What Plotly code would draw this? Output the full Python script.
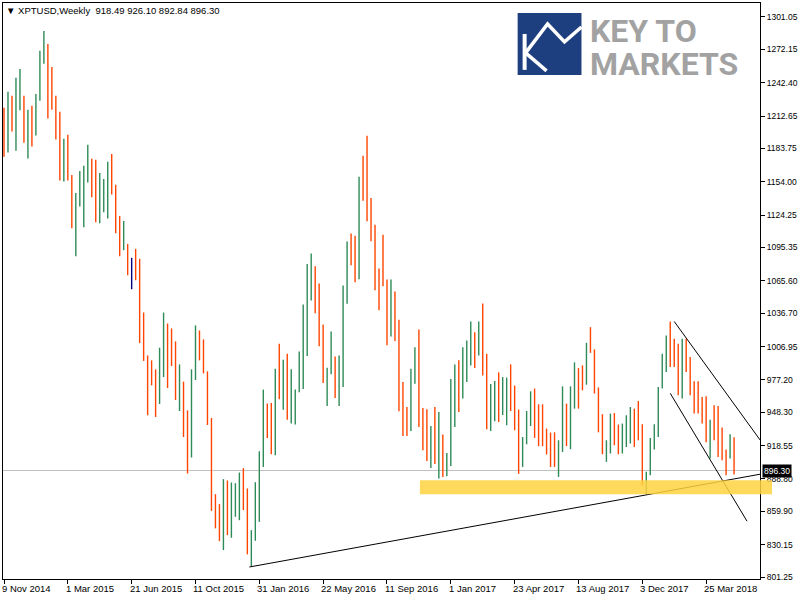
import pandas as pd
import plotly.graph_objects as go

# ---------------- data ----------------
first_week = "2014-11-09"
n_weeks = 184

opens = [1218.0, 1209.9, 1226.2, 1199.5, 1222.4, 1226.8, 1197.1, 1215.3, 1199.2, 1229.2,
         1262.5, 1268.7, 1239.3, 1222.4, 1207.5, 1164.5, 1185.0, 1159.5, 1119.9, 1138.0,
         1140.4, 1161.8, 1171.6, 1170.7, 1125.3, 1128.5, 1141.3, 1168.0, 1145.8, 1111.0,
         1093.2, 1097.9, 1082.5, 1090.5, 1085.0, 1030.8, 995.5, 987.2, 982.7, 960.4,
         990.8, 1021.9, 1016.9, 991.6, 967.0, 973.8, 947.1, 910.8, 981.2, 1015.8,
         1000.8, 984.3, 941.1, 866.3, 854.4, 836.3, 882.3, 842.5, 859.4, 882.3,
         888.6, 878.8, 829.1, 834.2, 870.5, 911.5, 950.7, 938.5, 912.9, 977.4,
         963.1, 970.3, 942.6, 956.9, 966.5, 983.6, 1007.1, 1075.4, 1073.9, 1049.6,
         1020.7, 978.3, 985.7, 992.5, 963.1, 982.7, 1056.9, 1099.4, 1090.5, 1081.6,
         1145.8, 1142.5, 1122.9, 1111.0, 1071.5, 1062.9, 1063.2, 1017.1, 1054.0, 1026.6,
         966.1, 935.8, 933.7, 979.7, 991.6, 943.5, 922.7, 907.0, 936.0, 913.8,
         927.1, 893.6, 901.6, 969.4, 986.3, 977.4, 984.8, 1004.1, 1009.5, 1002.6,
         1025.8, 998.1, 941.7, 963.1, 965.8, 950.9, 953.0, 973.8, 967.0, 946.2,
         909.9, 921.3, 943.2, 960.7, 954.5, 940.0, 929.3, 928.4, 926.2, 907.0,
         921.3, 935.2, 932.2, 964.9, 986.3, 978.3, 973.8, 1009.5, 1003.5, 967.9,
         933.1, 912.0, 917.3, 944.7, 923.3, 916.2, 923.3, 926.2, 951.2, 944.1,
         936.7, 890.6, 892.7, 917.3, 927.8, 971.4, 994.6, 1011.5, 1010.9, 990.7,
         964.9, 1005.5, 995.2, 967.2, 964.3, 950.0, 948.5, 919.8, 933.1, 932.8,
         926.2, 914.4, 908.4, 918.49]
highs = [1220.0, 1234.2, 1230.7, 1246.7, 1254.7, 1230.7, 1218.2, 1221.8, 1232.4, 1270.8,
         1288.6, 1277.0, 1256.5, 1230.7, 1216.4, 1192.4, 1195.9, 1160.0, 1144.0, 1163.6,
         1168.3, 1187.0, 1174.5, 1173.6, 1161.8, 1156.4, 1171.9, 1178.7, 1151.4, 1123.5,
         1119.0, 1098.5, 1086.1, 1094.1, 1085.2, 1037.3, 999.0, 994.6, 986.6, 1005.9,
         1037.3, 1027.5, 1023.1, 1011.5, 991.0, 975.6, 950.0, 986.6, 1025.8, 1021.3,
         1013.3, 984.8, 943.2, 875.2, 866.3, 888.6, 887.4, 885.6, 885.0, 894.5,
         898.4, 880.3, 843.1, 885.9, 913.5, 968.5, 956.0, 956.5, 987.2, 1009.5,
         995.2, 1000.6, 986.6, 968.5, 1002.6, 1044.5, 1080.7, 1089.9, 1078.6, 1063.2,
         1026.6, 988.1, 1020.4, 998.1, 999.0, 1061.4, 1100.6, 1107.7, 1105.7, 1158.5,
         1177.2, 1195.0, 1139.5, 1115.7, 1076.5, 1106.8, 1066.7, 1066.7, 1056.0, 1030.8,
         975.2, 953.0, 987.2, 1006.4, 1022.2, 952.1, 950.9, 936.0, 953.0, 948.5,
         928.4, 912.0, 977.9, 991.0, 994.6, 1006.4, 1012.4, 1029.3, 1019.8, 1029.3,
         1045.4, 1000.6, 973.5, 976.1, 983.9, 979.7, 979.2, 991.0, 972.1, 950.7,
         926.2, 949.4, 967.0, 969.4, 955.4, 955.4, 933.7, 930.2, 930.4, 923.3,
         971.4, 956.0, 971.4, 992.8, 987.7, 990.1, 1010.3, 1024.2, 1004.4, 970.5,
         946.5, 923.3, 947.1, 947.6, 937.3, 938.2, 945.6, 953.0, 951.5, 958.3,
         937.6, 895.1, 925.4, 937.6, 970.8, 1000.6, 1016.9, 1029.3, 1013.9, 1009.5,
         1013.9, 1013.9, 997.5, 975.9, 975.9, 961.9, 962.5, 941.7, 954.5, 953.9,
         934.6, 915.0, 928.6, 926.10]
lows = [1176.3, 1180.2, 1198.9, 1181.7, 1217.9, 1188.8, 1174.8, 1185.5, 1195.3, 1226.2,
        1259.4, 1210.4, 1218.2, 1191.7, 1155.2, 1154.3, 1155.2, 1112.4, 1087.5, 1132.0,
        1113.3, 1153.4, 1140.1, 1117.8, 1116.9, 1126.7, 1121.3, 1142.7, 1108.0, 1087.5,
        1092.9, 1070.6, 1058.1, 1066.1, 1010.0, 994.1, 945.6, 972.3, 944.1, 955.7,
        979.7, 969.9, 989.5, 959.2, 949.4, 926.2, 893.6, 907.9, 977.1, 994.6,
        983.0, 936.9, 860.3, 844.7, 833.3, 825.3, 838.7, 836.3, 855.0, 852.0,
        861.0, 821.5, 810.4, 833.6, 850.5, 899.5, 925.4, 910.8, 909.9, 960.0,
        950.5, 941.7, 938.2, 937.3, 966.1, 969.0, 998.4, 1048.0, 1036.7, 1007.3,
        974.4, 953.9, 982.1, 961.0, 953.9, 970.8, 1045.1, 1079.5, 1064.3, 1067.0,
        1137.1, 1118.7, 1100.9, 1057.2, 1039.4, 1060.8, 1008.2, 1016.0, 1011.8, 949.1,
        927.1, 927.1, 931.6, 973.8, 935.2, 914.4, 904.9, 898.6, 902.2, 889.2,
        890.6, 891.2, 900.4, 935.2, 948.5, 960.5, 975.2, 990.1, 987.7, 999.0,
        981.2, 933.1, 931.6, 940.2, 939.6, 945.8, 936.7, 949.4, 932.2, 893.3,
        899.5, 919.7, 936.0, 925.4, 918.0, 918.0, 910.6, 899.5, 899.5, 890.6,
        912.9, 918.2, 915.3, 951.5, 951.5, 967.9, 972.9, 1001.3, 965.0, 930.4,
        910.8, 904.0, 911.5, 918.9, 910.8, 911.5, 917.3, 920.4, 917.3, 923.3,
        882.6, 874.9, 892.1, 915.0, 926.2, 969.6, 984.2, 988.6, 988.6, 963.4,
        960.5, 984.2, 963.4, 947.1, 947.1, 938.2, 921.5, 907.0, 923.3, 908.4,
        905.5, 892.1, 907.0, 892.84]
closes = [1212.8, 1226.8, 1201.9, 1222.4, 1228.6, 1196.5, 1214.4, 1201.9, 1231.6, 1266.9,
          1268.1, 1239.3, 1222.4, 1206.3, 1163.6, 1187.6, 1160.0, 1117.2, 1138.6, 1139.2,
          1155.6, 1171.6, 1170.7, 1123.5, 1130.6, 1141.3, 1168.0, 1144.9, 1111.0, 1095.0,
          1094.1, 1084.3, 1082.5, 1082.5, 1032.6, 994.6, 988.1, 982.7, 961.2, 991.6,
          1020.1, 1018.4, 990.1, 970.3, 981.9, 947.1, 910.8, 982.5, 1015.8, 1001.3,
          984.5, 941.1, 861.0, 854.4, 836.3, 880.3, 840.2, 859.4, 883.8, 889.7,
          878.8, 830.4, 833.6, 871.0, 911.5, 955.1, 938.2, 912.9, 979.2, 961.0,
          971.4, 947.1, 956.9, 967.9, 983.6, 1008.8, 1076.5, 1078.3, 1051.6, 1022.0,
          975.6, 987.2, 990.7, 968.7, 985.4, 1058.5, 1096.8, 1090.5, 1081.6, 1147.5,
          1144.5, 1122.9, 1112.8, 1074.1, 1062.9, 1061.4, 1016.0, 1054.0, 1026.6, 966.5,
          935.8, 933.7, 979.7, 997.5, 943.5, 920.4, 907.0, 929.3, 914.4, 926.2,
          891.0, 901.6, 967.9, 985.7, 977.4, 984.8, 1004.1, 1010.9, 1002.6, 1027.3,
          998.1, 941.7, 965.4, 965.8, 949.8, 953.9, 972.1, 967.0, 946.2, 913.2,
          921.3, 938.7, 960.7, 954.5, 940.0, 928.6, 928.4, 926.2, 908.2, 921.3,
          935.2, 932.2, 964.9, 978.8, 978.3, 977.7, 1007.1, 1002.9, 967.9, 934.0,
          911.5, 916.8, 944.7, 923.9, 916.2, 923.9, 929.3, 951.2, 944.1, 940.5,
          887.7, 893.6, 917.3, 926.9, 969.9, 995.5, 1012.4, 1010.6, 990.7, 964.9,
          1005.5, 996.1, 966.3, 964.3, 950.0, 948.5, 923.3, 933.1, 926.9, 926.2,
          914.4, 913.8, 923.3, 896.30]

price_ticks = [1301.05, 1272.15, 1242.40, 1212.65, 1183.75, 1154.00, 1124.25, 1095.35,
               1065.60, 1036.70, 1006.95, 977.20, 948.30, 918.55, 888.80, 859.90,
               830.15, 801.25]
price_tick_text = ["1301.05", "1272.15", "1242.40", "1212.65", "1183.75", "1154.00",
                   "1124.25", "1095.35", "1065.60", "1036.70", "1006.95", "977.20",
                   "948.30", "918.55", "888.80", "859.90", "830.15", "801.25"]
date_tick_dates = ["2014-11-09", "2015-03-01", "2015-06-21", "2015-10-11", "2016-01-31",
                   "2016-05-22", "2016-09-11", "2017-01-01", "2017-04-23", "2017-08-13",
                   "2017-12-03", "2018-03-25"]
date_tick_labels = ["9 Nov 2014", "1 Mar 2015", "21 Jun 2015", "11 Oct 2015", "31 Jan 2016",
                    "22 May 2016", "11 Sep 2016", "1 Jan 2017", "23 Apr 2017", "13 Aug 2017",
                    "3 Dec 2017", "25 Mar 2018"]

last_price = 896.30
header = "XPTUSD,Weekly\u00a0\u00a0918.49 926.10 892.84 896.30"

# support zone and trend lines: (week offset from first bar, price)
zone_start_week = 104.25
zone_low, zone_high = 875.2, 887.7
support_line = [(61.5, 810.2), (189.5, 893.0)]
channel_upper = [(168.0, 1029.3), (191.75, 912.6)]
channel_lower = [(167.0, 965.2), (186.25, 851.1)]

# view window in weeks from the first bar
view_weeks = (-0.25, 189.5)
price_range = (799.5, 1313.5)

# ---------------- figure ----------------
W, H = 800, 600
ML, MR, MT, MB = 2, 39, 2, 21
PW, PH = W - ML - MR, H - MT - MB

t0 = pd.Timestamp(first_week)
dates = pd.date_range(first_week, periods=n_weeks, freq="7D")


def wk(w):
    return t0 + pd.Timedelta(days=7 * w)


def px(x):
    return (x - ML) / PW


def py(y):
    return 1 - (y - MT) / PH


GREEN = "#2e8b57"
RED = "#ff4500"
NAVY = "#000080"

doji = [o == c for o, c in zip(opens, closes)]
nan = float("nan")

fig = go.Figure()
fig.add_trace(go.Ohlc(
    x=dates,
    open=[nan if d else v for v, d in zip(opens, doji)],
    high=[nan if d else v for v, d in zip(highs, doji)],
    low=[nan if d else v for v, d in zip(lows, doji)],
    close=[nan if d else v for v, d in zip(closes, doji)],
    increasing=dict(line=dict(color=GREEN, width=1.4)),
    decreasing=dict(line=dict(color=RED, width=1.4)),
    tickwidth=0.45, hoverinfo="skip", showlegend=False,
))
fig.add_trace(go.Ohlc(
    x=[d for d, k in zip(dates, doji) if k],
    open=[v for v, k in zip(opens, doji) if k],
    high=[v for v, k in zip(highs, doji) if k],
    low=[v for v, k in zip(lows, doji) if k],
    close=[v for v, k in zip(closes, doji) if k],
    increasing=dict(line=dict(color=NAVY, width=1.4)),
    decreasing=dict(line=dict(color=NAVY, width=1.4)),
    tickwidth=0.45, hoverinfo="skip", showlegend=False,
))

shapes = []
# last price line
shapes.append(dict(type="line", xref="paper", yref="y", x0=0, x1=1,
                   y0=last_price, y1=last_price, line=dict(color="#c0c0c0", width=1),
                   layer="below"))
# trend lines
for (a, b) in (support_line, channel_upper, channel_lower):
    shapes.append(dict(type="line", xref="x", yref="y",
                       x0=wk(a[0]), y0=a[1], x1=wk(b[0]), y1=b[1],
                       line=dict(color="black", width=1)))
# support zone
span = view_weeks[1] - view_weeks[0]
shapes.append(dict(type="rect", xref="paper", yref="y",
                   x0=(zone_start_week - view_weeks[0]) / span, x1=px(773),
                   y0=zone_low, y1=zone_high, fillcolor="#ffd23f", opacity=0.85,
                   line=dict(width=0), layer="above"))

# logo
shapes.append(dict(type="rect", xref="paper", yref="paper",
                   x0=px(518), x1=px(582), y0=py(74), y1=py(12),
                   fillcolor="#1d3f7f", line=dict(width=0), layer="above"))
k_path = "M {},{} L {},{}".format(px(525), py(33), px(525), py(69))
shapes.append(dict(type="path", xref="paper", yref="paper", path=k_path,
                   line=dict(color="white", width=4), layer="above"))
zz = [(526, 52), (548, 23), (565, 41), (582, 26)]
zz_path = "M " + " L ".join("{},{}".format(px(a), py(b)) for a, b in zz)
shapes.append(dict(type="path", xref="paper", yref="paper", path=zz_path,
                   line=dict(color="white", width=3.5), layer="above"))
leg_path = "M {},{} L {},{}".format(px(526), py(52), px(547), py(70))
shapes.append(dict(type="path", xref="paper", yref="paper", path=leg_path,
                   line=dict(color="white", width=3.5), layer="above"))

annotations = []
annotations.append(dict(xref="paper", yref="paper", x=px(3), y=py(10),
                        xanchor="left", yanchor="middle", showarrow=False,
                        text="\u25BC " + header,
                        font=dict(family="Liberation Sans, Arial", size=9.5, color="black")))
for d, lab in zip(date_tick_dates, date_tick_labels):
    annotations.append(dict(xref="x", yref="paper", x=d, y=0, xanchor="left",
                            yanchor="top", xshift=-4, yshift=-2, showarrow=False,
                            text=lab, font=dict(family="Liberation Sans, Arial",
                                                size=9.5, color="black")))
annotations.append(dict(xref="paper", yref="y", x=1, y=last_price, xanchor="left",
                        yanchor="middle", xshift=2, showarrow=False,
                        text="{:.2f}".format(last_price), bgcolor="black",
                        borderpad=1,
                        font=dict(family="Liberation Sans, Arial", size=8.5, color="white")))
logo_font = dict(family="Roboto", size=32, color="#a2a2a2", weight="bold")
annotations.append(dict(xref="paper", yref="paper", x=px(589), y=py(30),
                        xanchor="left", yanchor="middle", showarrow=False,
                        text="KEY TO", font=logo_font))
annotations.append(dict(xref="paper", yref="paper", x=px(589), y=py(63),
                        xanchor="left", yanchor="middle", showarrow=False,
                        text="MARKETS", font=logo_font))

fig.update_layout(
    width=W, height=H,
    margin=dict(l=ML, r=MR, t=MT, b=MB, pad=0),
    paper_bgcolor="white", plot_bgcolor="white",
    showlegend=False,
    shapes=shapes, annotations=annotations,
    xaxis=dict(type="date", range=[wk(view_weeks[0]), wk(view_weeks[1])],
               rangeslider=dict(visible=False), showgrid=False, zeroline=False,
               showline=True, linecolor="black", linewidth=1, mirror=True,
               tickvals=date_tick_dates, showticklabels=False,
               ticks="outside", ticklen=4, tickcolor="black", fixedrange=True),
    yaxis=dict(side="right", range=list(price_range), showgrid=False, zeroline=False,
               showline=True, linecolor="black", linewidth=1, mirror=True,
               tickvals=price_ticks, ticktext=price_tick_text,
               ticks="outside", ticklen=4, tickcolor="black",
               tickfont=dict(family="Liberation Sans, Arial", size=8.5, color="black")),
)

fig.write_html("out.html",
               config={"displayModeBar": False},
               post_script="document.body.style.margin='0';"
                           "document.body.style.overflow='hidden';")
